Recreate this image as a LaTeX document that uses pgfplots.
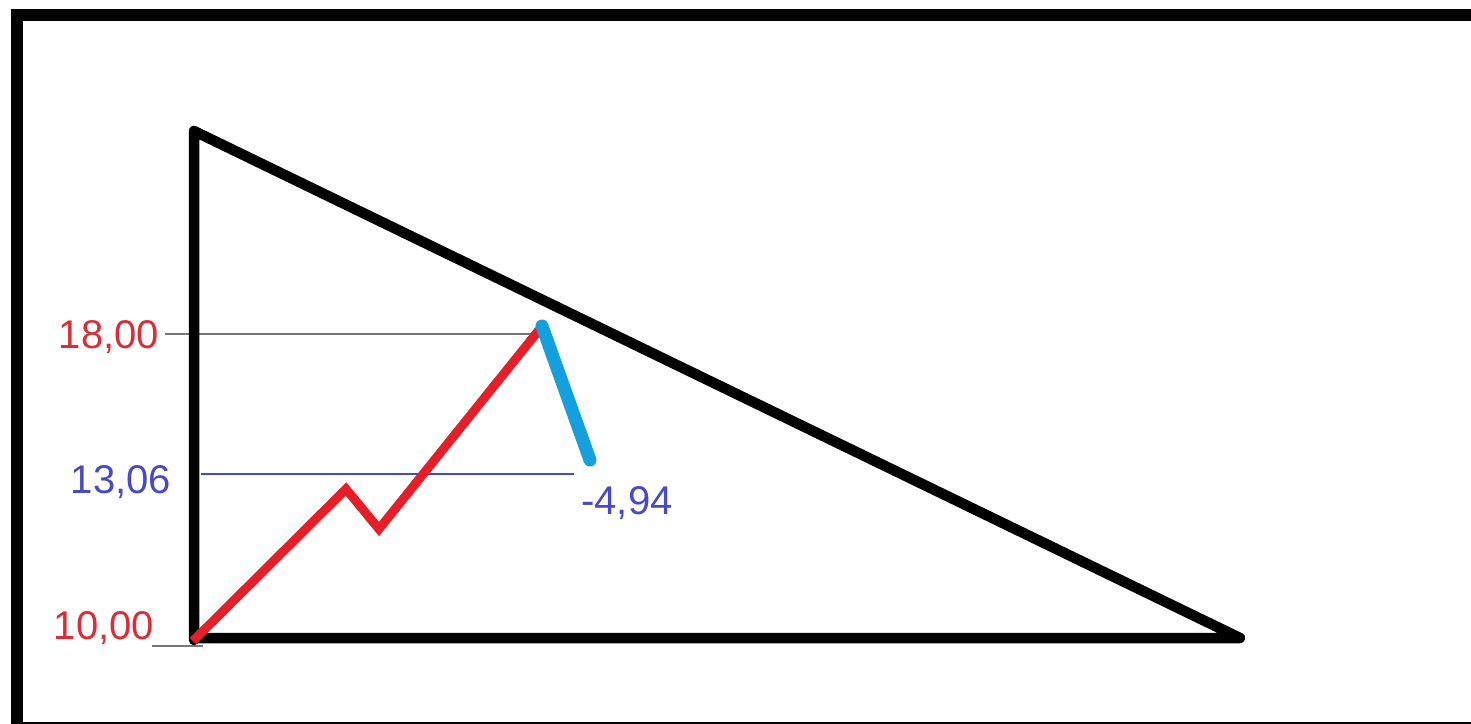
\documentclass[border=0pt]{standalone}
\usepackage{pgfplots}
\pgfplotsset{compat=1.18}
\usepackage{fontspec}
\setmainfont{Liberation Sans}
\definecolor{pred}{RGB}{230,30,40}
\definecolor{pblue}{RGB}{20,160,220}
\definecolor{tred}{RGB}{218,45,55}
\definecolor{tblue}{RGB}{70,75,195}
\definecolor{lgray}{RGB}{120,120,120}

% 1 unit = 1 px of the 1471x723 drawing, y runs downwards
\begin{document}
\begin{tikzpicture}
\begin{axis}[width=14.71cm,height=7.23cm,scale only axis,
  xmin=0,xmax=1471,ymin=0,ymax=723,y dir=reverse,
  hide axis,clip=true]
% frame
\addplot[black,line width=1.2mm] coordinates
  {(1490,15) (17,15) (17,728) (1490,728)};
% guide lines
\addplot[lgray,line width=0.16mm] coordinates {(165,334) (538,334)};
\addplot[tblue,line width=0.16mm] coordinates {(201,474) (574,474)};
\addplot[lgray,line width=0.16mm] coordinates {(152,646) (203,646)};
% triangle
\addplot[black,line width=1.05mm,line join=round,line cap=round] coordinates
  {(194,640) (194,131) (1240,638) (194,638)};
% price path
\addplot[pred,line width=0.9mm,line join=miter] coordinates
  {(193,641) (346,489) (379,529) (539,330)};
\addplot[pblue,line width=1.3mm,line cap=round] coordinates
  {(542,326) (590,460)};
% labels
\node[tred,font=\fontsize{11.4}{12}\selectfont] at (axis cs:109,337) {18,00};
\node[tblue,font=\fontsize{11.4}{12}\selectfont] at (axis cs:121,482) {13,06};
\node[tred,font=\fontsize{11.4}{12}\selectfont] at (axis cs:104,628) {10,00};
\node[tblue,font=\fontsize{11.4}{12}\selectfont] at (axis cs:627,503) {-4,94};
\end{axis}
\pgfresetboundingbox
\useasboundingbox (current axis.south west) rectangle (current axis.north east);
\end{tikzpicture}
\end{document}
